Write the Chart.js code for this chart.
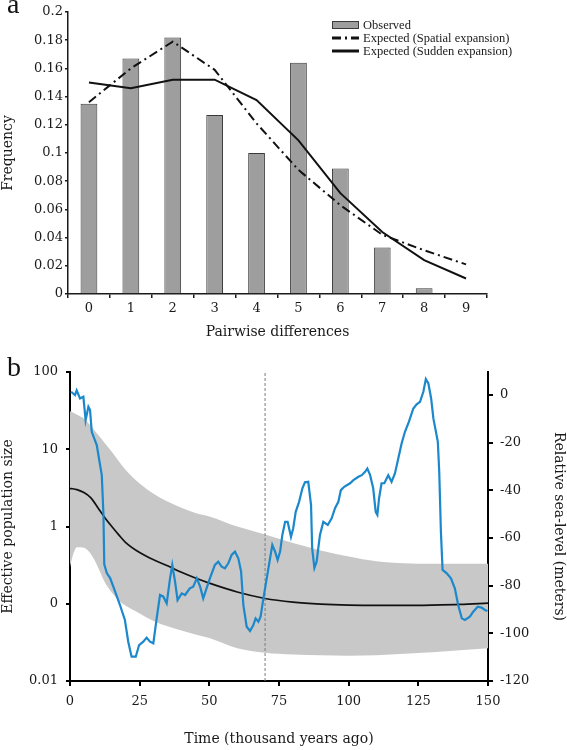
<!DOCTYPE html>
<html>
<head>
<meta charset="utf-8">
<script src="https://cdn.jsdelivr.net/npm/chart.js@4/dist/chart.umd.min.js"></script>
<style>
    body { margin: 0; width: 567px; height: 750px; background: #fff; position: relative; overflow: hidden; }
    #wrapA { position: absolute; left: 0; top: 0; width: 567px; height: 345px; }
    #wrapB { position: absolute; left: 0; top: 345px; width: 567px; height: 405px; }
    .tag { position: absolute; left: 7px; font: 28px "Liberation Serif", serif; line-height: 28px; color: #111; }
</style>
</head>
<body>
<div id="wrapA"><canvas id="chartA" width="567" height="345"></canvas></div>
<div id="wrapB"><canvas id="chartB" width="567" height="405"></canvas></div>
<div class="tag" style="top:-10px">a</div>
<div class="tag" style="top:353px">b</div>
<script>
// panel a: mismatch distribution
let diffs = ["0", "1", "2", "3", "4", "5", "6", "7", "8", "9"];
let observed = [0.135, 0.167, 0.182, 0.127, 0.1, 0.164, 0.089, 0.033, 0.004, 0];
let spatial = [0.136, 0.160, 0.179, 0.159, 0.121, 0.088, 0.063, 0.042, 0.031, 0.021];
let sudden = [0.150, 0.146, 0.152, 0.152, 0.1375, 0.109, 0.0715, 0.044, 0.024, 0.011];
let freqTicks = ["0", "0.02", "0.04", "0.06", "0.08", "0.1", "0.12", "0.14", "0.16", "0.18", "0.2"];

// panel b: skyline plot + sea level
let bandTime = [0, 1, 2.5, 5, 7.5, 10, 12.5, 15, 17.5, 20, 25, 30, 35, 40, 45, 50, 60, 70, 80, 90, 100, 110, 120, 130, 140, 150];
let neMedian = [3.1, 3.08, 3.0, 2.75, 2.35, 1.75, 1.3, 1.0, 0.78, 0.62, 0.46, 0.37, 0.31, 0.255, 0.215, 0.185, 0.142, 0.117, 0.105, 0.099, 0.096, 0.095, 0.095, 0.096, 0.098, 0.102];
let neUpper = [31, 30, 28, 25, 20, 15.5, 12, 9.3, 7, 5.4, 3.6, 2.65, 2.1, 1.75, 1.5, 1.35, 1.0, 0.79, 0.61, 0.49, 0.41, 0.355, 0.335, 0.33, 0.33, 0.33];
let neLower = [0.3, 0.42, 0.54, 0.53, 0.44, 0.3, 0.19, 0.14, 0.11, 0.094, 0.075, 0.06, 0.051, 0.045, 0.04, 0.036, 0.0265, 0.0232, 0.022, 0.0215, 0.0213, 0.0216, 0.0225, 0.0236, 0.025, 0.0265];

let seaTime = [0.4, 1.8, 2.4, 3.6, 4.8, 5.6, 6.6, 7.2, 7.8, 9.6, 10.8, 11.4, 12.0, 12.3, 13.2, 14.4, 16.2, 17.9, 19.7, 20.9,
    22.1, 23.6, 24.8, 26.3, 27.5, 28.7, 29.9, 31.1, 32.3, 33.5, 34.7, 35.9, 36.7, 37.7, 38.6, 40.1, 41.3, 43.0, 44.2, 45.5,
    46.7, 47.8, 49.0, 50.2, 52.0, 53.2, 54.4, 55.6, 56.8, 58.0, 59.2, 60.4, 61.4, 62.2, 63.4, 64.6, 65.8, 66.6, 67.6, 68.4,
    69.4, 70.6, 71.8, 72.6, 73.6, 74.5, 75.4, 76.2, 77.2, 78.1, 79.3, 80.1, 81.0, 82.2, 83.4, 84.3, 85.5, 86.5, 86.9, 87.7,
    88.5, 89.7, 90.9, 92.5, 93.9, 95.1, 96.3, 97.2, 98.4, 100.5, 101.7, 103.5, 104.7, 105.9, 106.7, 107.7, 108.8, 109.7, 110.3, 110.9,
    111.8, 112.8, 114.2, 115.4, 116.6, 117.8, 119.0, 120.2, 121.6, 123.2, 124.4, 125.6, 126.8, 127.7, 128.6, 129.6, 130.4, 132.0, 132.5, 133.1,
    133.7, 135.2, 136.7, 138.1, 139.3, 140.6, 141.7, 143.5, 144.7, 146.3, 147.7, 148.9, 149.8];
let seaLevel = [1.4, 0, 2, -1.4, -0.7, -10.5, -4.9, -6.3, -15.4, -21, -29.4, -33.6, -50, -71, -74.7, -76.8, -82.5, -88, -94.4, -103.5,
    -109.8, -109.8, -104.9, -103.5, -101.8, -103.5, -104.2, -93.7, -83.9, -84.6, -87.4, -76.9, -71.3, -78.3, -86, -83.2, -83.9, -81.1, -80.4, -76.9,
    -80.4, -85.3, -81.1, -76.9, -71.3, -69.9, -72, -72.7, -70.6, -67.1, -65.7, -68.5, -74.1, -88.1, -97.2, -99, -96.5, -93.7, -95.1, -93,
    -85.3, -76.9, -68.5, -62.9, -65.7, -69.2, -65.7, -58.7, -53.2, -53.2, -59.5, -55.9, -49, -44.8, -39.1, -36.6, -36.4, -46.2, -64.3, -72.5,
    -69.9, -58.7, -53.2, -54.5, -51.7, -47.5, -44.8, -39.9, -38.5, -37, -35.7, -34.3, -33.6, -32.2, -30.8, -33.6, -39.1, -49, -50.3, -43.4,
    -37, -37, -33.6, -36.4, -32.9, -26.6, -20.3, -15.4, -11.2, -5.6, -3.9, -2.8, 1.4, 6.7, 4.9, -1.4, -9.8, -19.6, -32.2, -57.3,
    -73.4, -74.8, -76.9, -81.1, -88.1, -93.7, -94.4, -93, -90.9, -88.8, -89.2, -90.2, -90.6];

let cutTime = [70, 70];
let cutNe = [0.01, 100];
let timeTicks = [0, 25, 50, 75, 100, 125, 150];
let neTickVals = [0.01, 0.1, 1, 10, 100];
let neTickLabels = ["0.01", "0", "1", "10", "100"];
let seaTickVals = [-120, -100, -80, -60, -40, -20, 0];

let serif = "DejaVu Serif";
let ink = "#1a1a1a";

function pts(xs, ys) {
    return xs.map((x, i) => ({ x: x, y: ys[i] }));
}

// legend drawn beside the bars, like the original figure
const keyPlugin = {
    id: "keyBox",
    afterDraw(chart) {
        let ctx = chart.ctx;
        let x = 332, y = 25;
        ctx.save();
        ctx.font = "12.5px 'Liberation Serif'";
        ctx.textBaseline = "middle";
        chart.data.datasets.forEach((ds, i) => {
            let cy = y + i * 13;
            if (ds.type === "line") {
                ctx.strokeStyle = ds.borderColor;
                ctx.lineWidth = 3;
                ctx.setLineDash(ds.borderDash || []);
                ctx.beginPath();
                ctx.moveTo(x, cy);
                ctx.lineTo(x + 27, cy);
                ctx.stroke();
                ctx.setLineDash([]);
            } else {
                ctx.fillStyle = ds.backgroundColor;
                ctx.fillRect(x, cy - 3.5, 27, 7);
                ctx.strokeStyle = ds.borderColor;
                ctx.lineWidth = 1;
                ctx.strokeRect(x + 0.5, cy - 3.5, 26, 7);
            }
            ctx.fillStyle = ink;
            ctx.fillText(ds.label, x + 31, cy + 0.5);
        });
        ctx.restore();
    }
};

new Chart(document.getElementById("chartA"), {
    type: "bar",
    data: {
        labels: diffs,
        datasets: [
            { type: "bar", label: "Observed", data: observed, backgroundColor: "#9e9e9e", borderColor: "#3a3a3a", borderWidth: 1,
              barPercentage: 0.4, categoryPercentage: 1, order: 2 },
            { type: "line", label: "Expected (Spatial expansion)", data: spatial, borderColor: "#111", borderWidth: 2,
              borderDash: [9, 4, 2, 4], pointRadius: 0, fill: false, order: 1 },
            { type: "line", label: "Expected (Sudden expansion)", data: sudden, borderColor: "#111", borderWidth: 2,
              pointRadius: 0, fill: false, order: 1 }
        ]
    },
    options: {
        responsive: false,
        animation: false,
        layout: { padding: { top: 12, right: 80, left: 0, bottom: 0 } },
        plugins: { legend: { display: false }, tooltip: { enabled: false } },
        scales: {
            x: {
                afterFit: s => { s.height = 51; },
                border: { color: ink, width: 1.5 },
                grid: { offset: true, drawOnChartArea: false, tickLength: 4, color: ink, lineWidth: 1.5 },
                ticks: { color: ink, font: { family: serif, size: 13 }, padding: 3 },
                title: { display: true, text: "Pairwise differences", color: ink, font: { family: serif, size: 14 }, padding: { top: 4, bottom: 4 } }
            },
            y: {
                min: 0, max: 0.2,
                afterFit: s => { s.width = 68; },
                border: { color: ink, width: 1.5 },
                grid: { drawOnChartArea: false, tickLength: 3, color: ink, lineWidth: 1.5 },
                ticks: { stepSize: 0.02, color: ink, font: { family: serif, size: 13 }, padding: 2,
                         callback: (v, i) => freqTicks[i] },
                title: { display: true, text: "Frequency", color: ink, font: { family: serif, size: 14 }, padding: 0 }
            }
        }
    },
    plugins: [keyPlugin]
});

new Chart(document.getElementById("chartB"), {
    type: "line",
    data: {
        datasets: [
            { label: "upper", data: pts(bandTime, neUpper), borderWidth: 0, pointRadius: 0, backgroundColor: "#c8c8c8",
              fill: "+1", cubicInterpolationMode: "monotone", order: 4 },
            { label: "lower", data: pts(bandTime, neLower), borderWidth: 0, pointRadius: 0, fill: false,
              cubicInterpolationMode: "monotone", order: 4 },
            { label: "median", data: pts(bandTime, neMedian), borderColor: "#111", borderWidth: 1.7, pointRadius: 0,
              fill: false, cubicInterpolationMode: "monotone", order: 3 },
            { label: "cut", data: pts(cutTime, cutNe), borderColor: "#7a7a7a", borderWidth: 1, borderDash: [3, 2],
              pointRadius: 0, fill: false, order: 2 },
            { label: "sea", data: pts(seaTime, seaLevel), yAxisID: "y2", borderColor: "#1b88cc", borderWidth: 2.2,
              pointRadius: 0, fill: false, order: 1 }
        ]
    },
    options: {
        responsive: false,
        animation: false,
        layout: { padding: { top: 27, right: 0, left: 0, bottom: 0 } },
        plugins: { legend: { display: false }, tooltip: { enabled: false } },
        scales: {
            x: {
                type: "linear", min: 0, max: 150,
                afterBuildTicks: s => { s.ticks = timeTicks.map(v => ({ value: v })); },
                afterFit: s => { s.height = 69; },
                border: { color: "#000", width: 2 },
                grid: { drawOnChartArea: false, tickLength: 5, color: "#000", lineWidth: 2 },
                ticks: { color: ink, font: { family: serif, size: 13 }, padding: 8, maxRotation: 0 },
                title: { display: true, text: "Time (thousand years ago)", color: ink, font: { family: serif, size: 14 }, padding: { top: 4, bottom: 2 } }
            },
            y: {
                type: "logarithmic", position: "left", min: 0.01, max: 100,
                afterBuildTicks: s => { s.ticks = neTickVals.map(v => ({ value: v, major: true })); },
                afterFit: s => { s.width = 70; },
                border: { color: "#000", width: 2 },
                grid: { drawOnChartArea: false, tickLength: 4, color: "#000", lineWidth: 2 },
                ticks: { color: ink, font: { family: serif, size: 13 }, padding: 8,
                         callback: (v, i) => neTickLabels[i] },
                title: { display: true, text: "Effective population size", color: ink, font: { family: serif, size: 14 }, padding: 0 }
            },
            y2: {
                type: "linear", position: "right", min: -120, max: 9.7,
                afterBuildTicks: s => { s.ticks = seaTickVals.map(v => ({ value: v })); },
                afterFit: s => { s.width = 79; },
                border: { color: "#000", width: 2 },
                grid: { drawOnChartArea: false, tickLength: 5, color: "#000", lineWidth: 2 },
                ticks: { color: ink, font: { family: serif, size: 13 }, padding: 7,
                         callback: v => String(v) },
                title: { display: true, text: "Relative sea-level (meters)", color: ink, font: { family: serif, size: 14 }, padding: 0 }
            }
        }
    }
});
</script>
</body>
</html>
